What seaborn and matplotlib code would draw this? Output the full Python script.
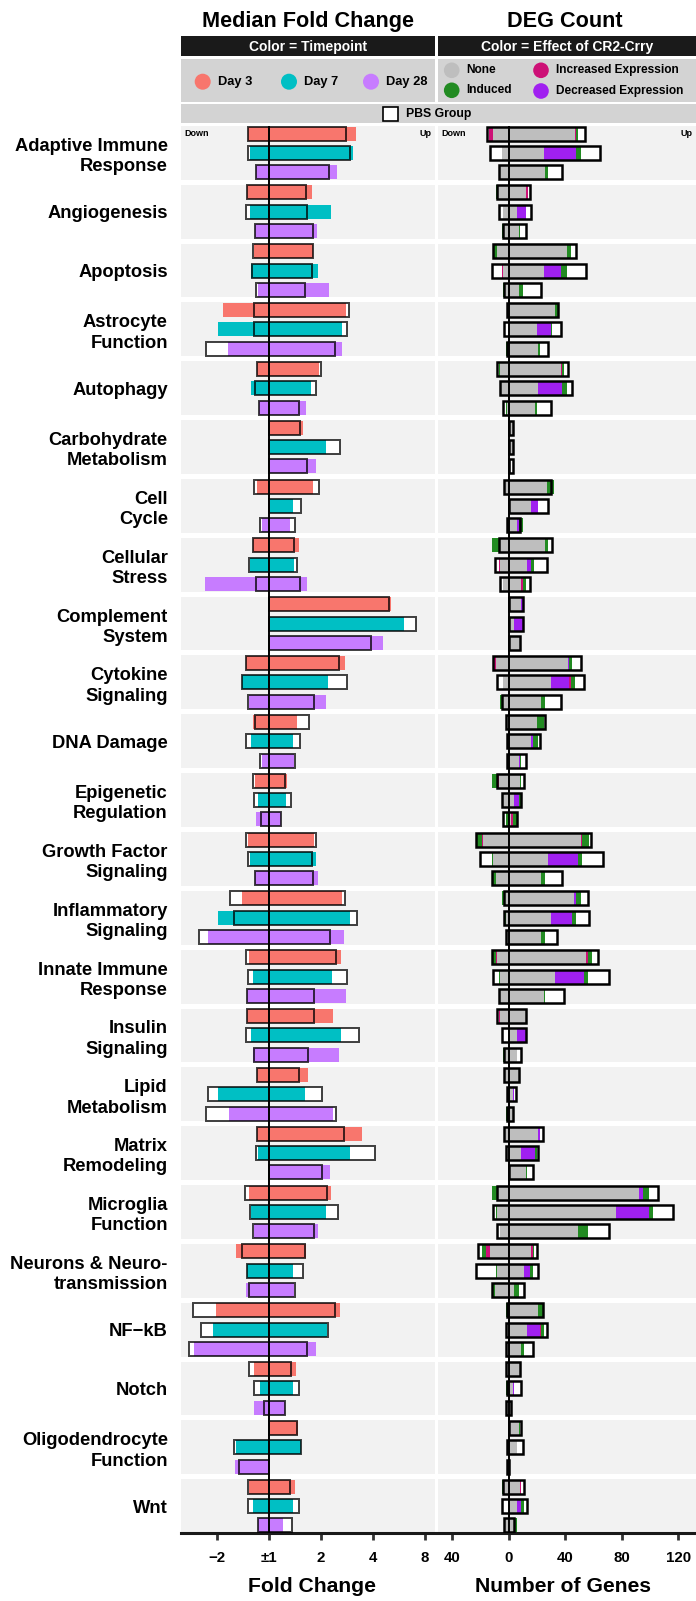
import numpy as np
import pandas as pd
import matplotlib
matplotlib.use("Agg")
import matplotlib.pyplot as plt
from matplotlib.patches import Rectangle, Circle
from matplotlib.transforms import blended_transform_factory
import seaborn as sns

pathways = [
    "Adaptive Immune\nResponse", "Angiogenesis", "Apoptosis", "Astrocyte\nFunction",
    "Autophagy", "Carbohydrate\nMetabolism", "Cell\nCycle", "Cellular\nStress",
    "Complement\nSystem", "Cytokine\nSignaling", "DNA Damage", "Epigenetic\nRegulation",
    "Growth Factor\nSignaling", "Inflammatory\nSignaling", "Innate Immune\nResponse",
    "Insulin\nSignaling", "Lipid\nMetabolism", "Matrix\nRemodeling", "Microglia\nFunction",
    "Neurons & Neuro-\ntransmission", "NF\u2212kB", "Notch", "Oligodendrocyte\nFunction", "Wnt",
]
timepoints = ["Day 3", "Day 7", "Day 28"]

# median fold change (log2 scale, 0 = +-1): treated down, treated up, PBS down, PBS up
fc_day3 = [
    (-0.39, 1.67, -0.39, 1.49), (-0.42, 0.83, -0.42, 0.71), (-0.28, 0.86, -0.31, 0.86),
    (-0.87, 1.48, -0.28, 1.54), (-0.22, 0.97, -0.22, 1.00), (0.00, 0.66, 0.00, 0.60),
    (-0.23, 0.85, -0.28, 0.97), (-0.31, 0.59, -0.31, 0.49), (0.00, 2.36, 0.00, 2.31),
    (-0.44, 1.47, -0.44, 1.36), (-0.31, 0.55, -0.26, 0.78), (-0.26, 0.36, -0.30, 0.31),
    (-0.39, 0.87, -0.44, 0.90), (-0.52, 1.41, -0.74, 1.47), (-0.37, 1.39, -0.43, 1.30),
    (-0.42, 1.24, -0.42, 0.88), (-0.22, 0.76, -0.22, 0.58), (-0.23, 1.79, -0.23, 1.44),
    (-0.37, 1.20, -0.45, 1.13), (-0.62, 0.72, -0.52, 0.69), (-1.02, 1.37, -1.45, 1.27),
    (-0.28, 0.53, -0.38, 0.42), (0.00, 0.56, 0.00, 0.55), (-0.38, 0.51, -0.40, 0.41),
]
fc_day7 = [
    (-0.36, 1.63, -0.39, 1.56), (-0.36, 1.19, -0.43, 0.74), (-0.35, 0.94, -0.32, 0.83),
    (-0.98, 1.41, -0.29, 1.51), (-0.35, 0.81, -0.27, 0.90), (0.00, 1.10, 0.00, 1.38),
    (0.00, 0.47, 0.00, 0.63), (-0.36, 0.49, -0.38, 0.55), (0.00, 2.60, 0.00, 2.83),
    (-0.51, 1.14, -0.51, 1.50), (-0.35, 0.46, -0.44, 0.61), (-0.20, 0.34, -0.29, 0.42),
    (-0.36, 0.91, -0.39, 0.83), (-0.98, 1.56, -0.67, 1.69), (-0.31, 1.22, -0.39, 1.51),
    (-0.35, 1.39, -0.43, 1.74), (-0.98, 0.70, -1.17, 1.02), (-0.20, 1.56, -0.24, 2.05),
    (-0.35, 1.10, -0.36, 1.33), (-0.42, 0.47, -0.42, 0.65), (-1.08, 1.12, -1.31, 1.14),
    (-0.16, 0.47, -0.29, 0.58), (-0.63, 0.63, -0.66, 0.63), (-0.31, 0.47, -0.39, 0.58),
]
fc_day28 = [
    (-0.24, 1.31, -0.24, 1.15), (-0.26, 0.92, -0.26, 0.85), (-0.21, 1.16, -0.24, 0.69),
    (-0.79, 1.41, -1.20, 1.28), (-0.18, 0.72, -0.18, 0.58), (0.00, 0.91, 0.00, 0.73),
    (-0.13, 0.40, -0.17, 0.51), (-1.23, 0.74, -0.24, 0.60), (0.00, 2.19, 0.00, 1.96),
    (-0.38, 1.10, -0.40, 0.87), (-0.13, 0.49, -0.17, 0.51), (-0.24, 0.23, -0.14, 0.23),
    (-0.26, 0.95, -0.26, 0.85), (-1.17, 1.45, -1.34, 1.17), (-0.42, 1.49, -0.42, 0.88),
    (-0.30, 1.35, -0.29, 0.76), (-0.77, 1.24, -1.20, 1.29), (0.00, 1.18, 0.00, 1.03),
    (-0.28, 0.95, -0.31, 0.87), (-0.44, 0.49, -0.37, 0.50), (-1.44, 0.91, -1.54, 0.73),
    (-0.29, 0.31, -0.09, 0.31), (-0.65, 0.00, -0.58, 0.00), (-0.20, 0.28, -0.21, 0.44),
]

# DEG counts: down (none, decreased, increased, induced), up (same), PBS down, PBS up
deg_day3 = [
    (11, 0, 3, 0, 47, 0, 1, 1, 15, 54), (8, 0, 0, 1, 12, 0, 2, 0, 8, 15),
    (8, 0, 0, 3, 41, 0, 0, 3, 11, 48), (0, 0, 0, 0, 33, 0, 0, 2, 1, 35),
    (6, 0, 0, 1, 37, 0, 1, 1, 8, 42), (0, 0, 0, 0, 3, 0, 0, 0, 0, 3),
    (3, 0, 0, 0, 27, 0, 0, 5, 3, 30), (7, 0, 0, 5, 26, 0, 0, 2, 7, 31),
    (0, 0, 0, 0, 9, 1, 0, 0, 0, 10), (9, 0, 2, 0, 42, 1, 0, 2, 11, 51),
    (2, 0, 0, 0, 20, 0, 0, 5, 2, 26), (7, 0, 1, 4, 8, 0, 0, 1, 8, 11),
    (18, 0, 1, 4, 51, 0, 1, 5, 23, 58), (3, 0, 0, 2, 46, 2, 0, 3, 3, 56),
    (8, 0, 1, 2, 55, 0, 1, 3, 12, 63), (6, 0, 1, 0, 12, 0, 0, 0, 8, 12),
    (3, 0, 0, 0, 7, 0, 0, 0, 3, 7), (3, 0, 0, 0, 21, 1, 0, 0, 3, 24),
    (8, 0, 0, 4, 92, 3, 0, 4, 8, 106), (13, 0, 3, 3, 16, 0, 1, 1, 22, 20),
    (1, 0, 0, 1, 21, 0, 0, 3, 1, 24), (2, 0, 0, 0, 8, 0, 0, 0, 2, 8),
    (0, 0, 0, 0, 7, 0, 0, 1, 0, 9), (4, 0, 0, 1, 8, 0, 1, 0, 4, 11),
]
deg_day7 = [
    (5, 0, 0, 0, 25, 23, 0, 3, 13, 65), (4, 0, 0, 0, 6, 6, 0, 0, 7, 16),
    (4, 0, 1, 0, 25, 12, 0, 4, 12, 55), (0, 0, 0, 0, 20, 10, 0, 1, 3, 37),
    (6, 0, 0, 0, 21, 17, 0, 3, 6, 45), (0, 0, 0, 0, 3, 0, 0, 0, 0, 3),
    (0, 0, 0, 0, 16, 5, 0, 0, 0, 28), (6, 0, 1, 0, 13, 3, 0, 2, 10, 27),
    (0, 0, 0, 0, 4, 6, 0, 0, 0, 10), (4, 0, 0, 0, 30, 13, 1, 3, 8, 53),
    (1, 0, 0, 0, 16, 1, 0, 4, 1, 22), (4, 0, 0, 1, 4, 3, 0, 2, 5, 9),
    (11, 0, 0, 1, 28, 21, 0, 3, 20, 67), (2, 0, 0, 1, 30, 15, 0, 3, 3, 57),
    (6, 0, 0, 1, 33, 20, 0, 3, 11, 71), (0, 0, 0, 0, 6, 6, 0, 0, 5, 12),
    (1, 0, 0, 0, 3, 1, 0, 0, 1, 5), (2, 0, 0, 0, 9, 10, 0, 1, 2, 21),
    (8, 0, 0, 1, 76, 23, 0, 3, 11, 116), (8, 0, 0, 1, 11, 4, 0, 2, 23, 21),
    (2, 0, 0, 0, 13, 9, 1, 2, 2, 27), (1, 0, 0, 1, 3, 1, 0, 0, 1, 9),
    (1, 0, 0, 0, 6, 0, 0, 0, 1, 10), (0, 0, 0, 0, 6, 3, 0, 2, 5, 13),
]
deg_day28 = [
    (7, 0, 0, 0, 26, 0, 0, 2, 7, 38), (4, 0, 0, 1, 7, 0, 0, 1, 4, 12),
    (3, 0, 0, 1, 7, 0, 0, 3, 3, 23), (1, 0, 0, 1, 21, 0, 0, 1, 1, 28),
    (1, 0, 0, 1, 19, 0, 0, 1, 4, 30), (0, 0, 0, 0, 2, 0, 0, 0, 0, 3),
    (1, 0, 0, 0, 6, 1, 0, 3, 1, 8), (4, 0, 0, 0, 9, 0, 1, 2, 6, 15),
    (0, 0, 0, 0, 8, 0, 0, 0, 0, 8), (5, 0, 0, 1, 23, 0, 0, 3, 5, 37),
    (0, 0, 0, 0, 7, 1, 0, 1, 1, 12), (0, 0, 0, 2, 2, 0, 1, 3, 4, 6),
    (9, 0, 0, 3, 23, 0, 0, 3, 12, 38), (2, 0, 0, 0, 23, 0, 0, 3, 2, 34),
    (7, 0, 0, 0, 25, 0, 0, 1, 7, 39), (3, 0, 0, 1, 6, 0, 0, 0, 3, 9),
    (1, 0, 0, 1, 3, 0, 0, 0, 1, 3), (0, 0, 0, 0, 12, 0, 0, 1, 0, 17),
    (6, 0, 0, 0, 49, 0, 0, 7, 8, 71), (10, 0, 0, 1, 4, 0, 0, 3, 12, 11),
    (2, 0, 0, 0, 9, 0, 0, 2, 2, 17), (2, 0, 0, 0, 2, 0, 0, 0, 2, 2),
    (1, 0, 0, 0, 0, 0, 0, 0, 1, 0), (3, 0, 0, 0, 4, 0, 0, 2, 3, 4),
]

fc_ticks = [-1, 0, 1, 2, 3]
fc_tick_labels = ["\u22122", "\u00b11", "2", "4", "8"]
deg_ticks = [-40, 0, 40, 80, 120]
deg_tick_labels = ["40", "0", "40", "80", "120"]

effects = ["None", "Decreased Expression", "Increased Expression", "Induced"]

sns.set_theme(style="white")
plt.rcParams["font.family"] = ["Liberation Sans", "DejaVu Sans"]
plt.rcParams["font.weight"] = "bold"
for key in ("text.color", "axes.labelcolor", "xtick.color", "ytick.color"):
    plt.rcParams[key] = "black"

tp_colors = dict(zip(timepoints, ["#F8766D", "#00BFC4", "#C77CFF"]))
effect_colors = {"None": "#BEBEBE", "Induced": "#228B22",
                 "Increased Expression": "#CD1076", "Decreased Expression": "#A020F0"}

fc_cols = ["lo", "hi", "pbs_lo", "pbs_hi"]
deg_cols = ([f"dn_{e}" for e in effects] + [f"up_{e}" for e in effects] + ["pbs_lo", "pbs_hi"])
fc_df = pd.concat([pd.DataFrame(d, columns=fc_cols).assign(pathway=pathways, tp=t, idx=range(len(pathways)))
                   for d, t in zip([fc_day3, fc_day7, fc_day28], timepoints)])
deg_df = pd.concat([pd.DataFrame(d, columns=deg_cols).assign(pathway=pathways, tp=t, idx=range(len(pathways)))
                    for d, t in zip([deg_day3, deg_day7, deg_day28], timepoints)])

W, H = 696, 1601
fig = plt.figure(figsize=(W / 100, H / 100), dpi=100)
hdr = fig.add_axes([0, 0, 1, 1])
hdr.set_xlim(0, W)
hdr.set_ylim(H, 0)
hdr.axis("off")


def panel(x0, x1, y0=126, y1=1533):
    return fig.add_axes([x0 / W, 1 - y1 / H, (x1 - x0) / W, (y1 - y0) / H])


ax_fc = panel(181, 435)
ax_deg = panel(438, 696)

n = len(pathways)
gap = 5
period = (1407 + gap) / n
fh = period - gap
row_off = {t: fh * f for t, f in zip(timepoints, [0.14, 0.5, 0.86])}
bar_h = 0.26 * fh
centers = np.arange(n) * period + fh / 2

for ax in (ax_fc, ax_deg):
    for i in range(n):
        ax.axhspan(i * period, i * period + fh, color="#F2F2F2", lw=0, zorder=0)
    ax.set_ylim(n * period - gap, 0)
    ax.axvline(0, color="black", lw=1.4, zorder=6)
    for s in ("top", "left", "right"):
        ax.spines[s].set_visible(False)
    ax.spines["bottom"].set_linewidth(2.2)
    ax.spines["bottom"].set_color("#1A1A1A")
    ax.tick_params(axis="x", bottom=True, direction="out", length=5, width=2,
                   color="#333333", pad=8, labelsize=10.8)
    ax.set_facecolor("white")

# fold change panel
for t in timepoints:
    d = fc_df[fc_df.tp == t]
    y = d.idx * period + row_off[t]
    ax_fc.barh(y, d.pbs_hi - d.pbs_lo, left=d.pbs_lo, height=bar_h, color="white", lw=0, zorder=2)
    ax_fc.barh(y, d.hi - d.lo, left=d.lo, height=bar_h, color=tp_colors[t], lw=0, zorder=3)
    ax_fc.barh(y, d.pbs_hi - d.pbs_lo, left=d.pbs_lo, height=bar_h, fill=False,
               edgecolor="black", lw=1.4, alpha=0.75, zorder=4)

ax_fc.set_xlim(-1.687, 3.198)
ax_fc.set_xticks(fc_ticks, fc_tick_labels)
ax_fc.set_yticks(centers, pathways)
ax_fc.tick_params(axis="y", left=False, length=0, pad=9.5, labelsize=13.2)
for lab in ax_fc.get_yticklabels():
    lab.set_linespacing(1.25)

# DEG count panel
for t in timepoints:
    d = deg_df[deg_df.tp == t]
    y = d.idx * period + row_off[t]
    ax_deg.barh(y, d.pbs_hi + d.pbs_lo, left=-d.pbs_lo, height=bar_h, color="white", lw=0, zorder=2)
    up_base = np.zeros(len(d))
    dn_base = np.zeros(len(d))
    for e in effects:
        up = d[f"up_{e}"].to_numpy()
        dn = d[f"dn_{e}"].to_numpy()
        ax_deg.barh(y, up, left=up_base, height=bar_h, color=effect_colors[e], lw=0, zorder=3)
        ax_deg.barh(y, dn, left=-(dn_base + dn), height=bar_h, color=effect_colors[e], lw=0, zorder=3)
        up_base += up
        dn_base += dn
    ax_deg.barh(y, d.pbs_hi + d.pbs_lo, left=-d.pbs_lo, height=bar_h, fill=False,
                edgecolor="black", lw=1.8, zorder=4)

ax_deg.set_xlim(-50.0, 132.6)
ax_deg.set_xticks(deg_ticks, deg_tick_labels)
ax_deg.set_yticks([])

for ax in (ax_fc, ax_deg):
    tr = blended_transform_factory(ax.transAxes, ax.transData)
    y0 = row_off["Day 3"]
    ax.text(0.012, y0, "Down", transform=tr, ha="left", va="center", fontsize=6.5, zorder=7)
    ax.text(0.985, y0, "Up", transform=tr, ha="right", va="center", fontsize=6.5, zorder=7)

# header: titles, strips and legends
hdr.text(308, 21, "Median Fold Change", ha="center", va="center", fontsize=15.6)
hdr.text(565, 21, "DEG Count", ha="center", va="center", fontsize=15.6)
hdr.add_patch(Rectangle((181, 36), 254, 20, color="#1A1A1A", lw=0))
hdr.add_patch(Rectangle((438, 36), 258, 20, color="#1A1A1A", lw=0))
hdr.text(308, 46.5, "Color = Timepoint", color="white", ha="center", va="center", fontsize=10)
hdr.text(567, 46.5, "Color = Effect of CR2-Crry", color="white", ha="center", va="center", fontsize=10)
hdr.add_patch(Rectangle((181, 59), 254, 43, color="#D3D3D3", lw=0))
hdr.add_patch(Rectangle((438, 59), 258, 43, color="#D3D3D3", lw=0))
hdr.add_patch(Rectangle((181, 104), 515, 19, color="#D3D3D3", lw=0))

for t, cx in zip(timepoints, [202.7, 289, 371]):
    hdr.add_patch(Circle((cx, 81.7), 8, color=tp_colors[t], lw=0))
    hdr.text(cx + 15.5, 82, t, ha="left", va="center", fontsize=9.3)

for e, (cx, cy) in zip(["None", "Induced", "Increased Expression", "Decreased Expression"],
                       [(451.7, 70.3), (451.7, 90.3), (541, 70.3), (541, 91)]):
    hdr.add_patch(Circle((cx, cy), 7.8, color=effect_colors[e], lw=0))
    hdr.text(cx + 15, cy, e, ha="left", va="center", fontsize=8.6)

hdr.add_patch(Rectangle((383, 107), 15, 14, facecolor="white", edgecolor="black", lw=1.2))
hdr.text(405.5, 114, "PBS Group", ha="left", va="center", fontsize=8.8)

hdr.text(312, 1586, "Fold Change", ha="center", va="center", fontsize=15.2)
hdr.text(563, 1586, "Number of Genes", ha="center", va="center", fontsize=15.2)

fig.savefig("out.png", dpi=100)
